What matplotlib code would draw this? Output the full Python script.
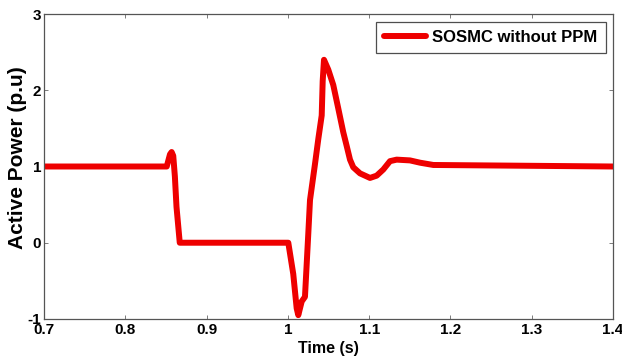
import matplotlib
matplotlib.use("Agg")
import matplotlib.pyplot as plt

t = [0.70, 0.851, 0.855, 0.857, 0.859, 0.861, 0.863, 0.867,
     1.0005, 1.0066, 1.0108, 1.0128, 1.017, 1.021, 1.0251, 1.0272,
     1.0333, 1.0374, 1.0416, 1.0428, 1.0444, 1.0497, 1.0558, 1.062,
     1.0681, 1.0723, 1.0764, 1.0804, 1.0887, 1.101, 1.1092, 1.1173,
     1.1256, 1.1338, 1.1502, 1.1625, 1.1789, 1.40]
p = [1.0, 1.0, 1.16, 1.19, 1.14, 0.87, 0.47, 0.0,
     0.0, -0.41, -0.86, -0.95, -0.77, -0.71, 0.12, 0.56,
     1.03, 1.36, 1.67, 2.12, 2.40, 2.27, 2.07, 1.76,
     1.45, 1.27, 1.09, 0.99, 0.91, 0.85, 0.88, 0.96,
     1.07, 1.09, 1.08, 1.05, 1.02, 1.0]

xticks = [0.7, 0.8, 0.9, 1.0, 1.1, 1.2, 1.3, 1.4]
xticklabels = ["0.7", "0.8", "0.9", "1", "1.1", "1.2", "1.3", "1.4"]
yticks = [-1, 0, 1, 2, 3]
yticklabels = ["-1", "0", "1", "2", "3"]

plt.rcParams['font.family'] = ['Liberation Sans', 'DejaVu Sans']

fig = plt.figure(figsize=(6.22, 3.6), dpi=100)
ax = fig.add_axes([0.0707, 0.114, 0.915, 0.847])
ax.plot(t, p, color='#ee0000', lw=4.3, solid_joinstyle='round', solid_capstyle='round',
        label='SOSMC without PPM')
ax.set_xlim(0.7, 1.4)
ax.set_ylim(-1, 3)
ax.set_xticks(xticks)
ax.set_xticklabels(xticklabels, fontsize=11, fontweight='bold')
ax.set_yticks(yticks)
ax.set_yticklabels(yticklabels, fontsize=11, fontweight='bold')
ax.tick_params(axis='x', direction='in', top=True, length=3, width=0.6, pad=3,
               color='#666666')
ax.tick_params(axis='y', direction='in', right=True, length=3, width=0.6, pad=2,
               color='#666666')
for s in ax.spines.values():
    s.set_linewidth(0.9)
    s.set_color('#555555')
ax.set_xlabel('Time (s)', fontsize=11.5, fontweight='bold', labelpad=3)
ax.set_ylabel('Active Power (p.u)', fontsize=15, fontweight='bold')
ax.yaxis.set_label_coords(-0.030, 0.53)
leg = ax.legend(loc='upper right', prop={'weight': 'bold', 'size': 12},
                fancybox=False, edgecolor='#222222', handlelength=2.5,
                handletextpad=0.36, borderaxespad=0.45, borderpad=0.5)
leg.get_frame().set_linewidth(0.9)
fig.savefig('out.png', dpi=100)
